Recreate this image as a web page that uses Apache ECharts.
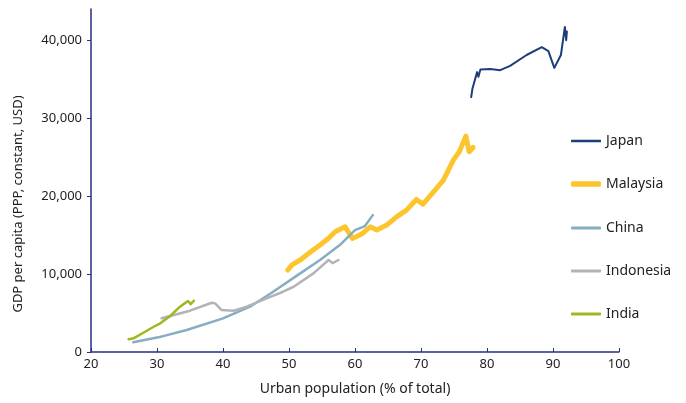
<!DOCTYPE html>
<html>
<head>
<meta charset="utf-8">
<script src="https://cdn.jsdelivr.net/npm/echarts@6/dist/echarts.min.js"></script>
<style>
  html, body { margin: 0; padding: 0; background: #fff; }
  #chart { width: 686px; height: 403px; }
</style>
</head>
<body>
<div id="chart"></div>
<script>
// urban population (% of total) vs GDP per capita (PPP, constant USD)
const japanUrban = [77.6, 77.8, 78.0, 78.5, 78.7, 79.0, 80.5, 82.0, 83.5, 86.0, 88.3, 89.3, 90.2, 91.2, 91.8, 92.0, 92.1, 92.0];
const japanGdp = [32700, 33800, 33700, 35900, 35300, 36250, 36300, 36150, 36700, 38100, 39100, 38600, 36450, 38100, 41700, 40000, 41100, 40300];

const malaysiaUrban = [49.8, 50.5, 51.7, 53.2, 54.7, 56.0, 57.0, 58.5, 59.6, 61.0, 62.3, 63.3, 64.8, 66.3, 67.8, 69.3, 70.3, 71.9, 73.4, 74.9, 75.8, 76.8, 77.3, 77.9];
const malaysiaGdp = [10500, 11200, 11800, 12800, 13720, 14600, 15420, 16060, 14570, 15130, 16060, 15640, 16280, 17340, 18200, 19570, 18970, 20550, 22050, 24610, 25680, 27690, 25680, 26240];

const chinaUrban = [26.4, 30.2, 34.5, 40.0, 44.1, 47.6, 51.7, 54.7, 57.7, 60.0, 61.5, 62.7];
const chinaGdp = [1240, 1880, 2820, 4320, 5810, 7730, 10090, 11800, 13720, 15640, 16150, 17560];

const indonesiaUrban = [30.7, 35.0, 38.3, 38.8, 39.8, 41.6, 43.6, 46.6, 49.1, 50.7, 53.7, 56.0, 56.6, 57.5];
const indonesiaGdp = [4320, 5300, 6320, 6240, 5380, 5300, 5810, 6880, 7730, 8370, 10090, 11800, 11400, 11800];

const indiaUrban = [25.7, 26.5, 28.0, 29.5, 30.5, 32.0, 33.2, 34.2, 34.7, 35.1, 35.6];
const indiaGdp = [1640, 1770, 2500, 3240, 3680, 4620, 5600, 6240, 6540, 6150, 6580];

const countries = ['Japan', 'Malaysia', 'China', 'Indonesia', 'India'];
const xTicks = [20, 30, 40, 50, 60, 70, 80, 90, 100];
const yTicks = [0, 10000, 20000, 30000, 40000];

const zip = (xs, ys) => xs.map((x, i) => [x, ys[i]]);

const axisColor = '#24307f';
const font = 'Noto Sans';
const colors = ['#1d3f78', '#fdc52d', '#86adc2', '#b1b3b8', '#9fb720'];
const widths = [2, 5, 2.5, 2.5, 2.5];
const legendY = [141, 184, 228, 271, 314];

const chart = echarts.init(document.getElementById('chart'));

const makeSeries = (i, xs, ys) => ({
  name: countries[i],
  type: 'line',
  data: zip(xs, ys),
  symbol: 'none',
  lineStyle: { color: colors[i], width: widths[i], cap: 'round', join: 'round' },
  itemStyle: { color: colors[i] }
});

// one legend per country so each icon can have its own line thickness
const legends = countries.map((name, i) => ({
  orient: 'vertical',
  left: 571,
  top: legendY[i] - 9,
  padding: 0,
  itemWidth: 30,
  itemHeight: widths[i] + 0.5,
  icon: 'roundRect',
  textStyle: { fontFamily: font, fontSize: 14, color: '#222', lineHeight: 18 },
  data: [name]
}));

chart.setOption({
  animation: false,
  textStyle: { fontFamily: font },
  grid: { left: 91, right: 67, top: 9, bottom: 51 },
  legend: legends,
  xAxis: {
    type: 'value',
    min: 20,
    max: 100,
    interval: 10,
    name: 'Urban population (% of total)',
    nameLocation: 'middle',
    nameGap: 30,
    nameTextStyle: { fontSize: 14, color: '#222', fontFamily: font },
    axisLine: { lineStyle: { color: axisColor, width: 1.5 } },
    axisTick: { inside: true, length: 4, lineStyle: { color: axisColor }, customValues: xTicks },
    axisLabel: { fontSize: 13, color: '#222', margin: 6, customValues: xTicks },
    splitLine: { show: false }
  },
  yAxis: {
    type: 'value',
    min: 0,
    max: 44000,
    axisLine: { show: true, lineStyle: { color: axisColor, width: 1.5 } },
    axisTick: { show: true, length: 4, lineStyle: { color: axisColor }, customValues: yTicks },
    axisLabel: {
      fontSize: 13,
      color: '#222',
      margin: 9,
      customValues: yTicks,
      formatter: v => v.toLocaleString('en-US')
    },
    splitLine: { show: false }
  },
  graphic: [{
    type: 'text',
    x: 18,
    y: 204,
    rotation: Math.PI / 2,
    style: {
      text: 'GDP per capita (PPP, constant, USD)',
      font: '13px "Noto Sans"',
      fill: '#222',
      align: 'center',
      verticalAlign: 'middle'
    }
  }],
  series: [
    makeSeries(0, japanUrban, japanGdp),
    makeSeries(1, malaysiaUrban, malaysiaGdp),
    makeSeries(2, chinaUrban, chinaGdp),
    makeSeries(3, indonesiaUrban, indonesiaGdp),
    makeSeries(4, indiaUrban, indiaGdp)
  ]
});
</script>
</body>
</html>
